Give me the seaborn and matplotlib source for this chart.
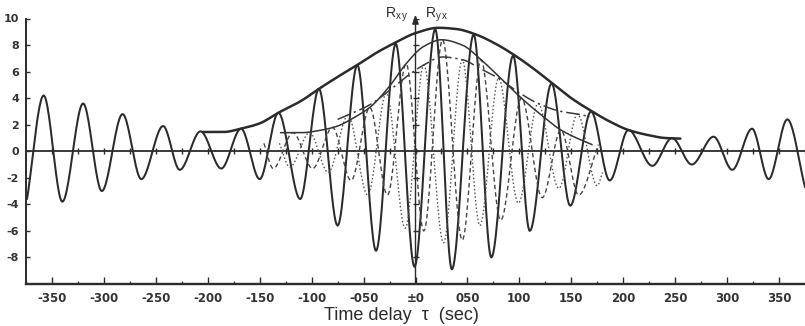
import numpy as np
import pandas as pd
import matplotlib
matplotlib.use("Agg")
import matplotlib.pyplot as plt
import seaborn as sns

# ---- cross-correlation functions, extrema read along the delay axis (sec) ----
main_t = [-374, -358, -340, -320, -302, -282, -264, -243, -227, -207, -187, -168,
          -150, -132, -111, -93, -75, -56, -38, -19, -1, 19, 35, 56, 73, 94, 110,
          131, 149, 169, 187, 205, 228, 247, 266, 287, 305, 324, 340, 358, 375]
main_v = [-3.6, 4.2, -3.8, 3.6, -3.0, 2.8, -2.1, 1.9, -1.4, 1.5, -1.3, 1.7,
          -2.1, 2.9, -3.6, 4.7, -5.6, 6.5, -7.5, 8.1, -8.7, 9.2, -8.9, 8.8, -8.0,
          7.2, -6.0, 5.1, -4.1, 3.0, -2.2, 1.6, -1.1, 1.0, -1.0, 1.1, -1.4, 1.7,
          -2.1, 2.4, -2.7]

dash_t = [-146, -137, -118, -99, -80, -62, -44, -27, -9, 8, 26, 45, 63, 82, 102,
          122, 140, 157, 176]
dash_v = [0.6, -1.3, 1.4, -1.3, 1.8, -2.2, 3.3, -3.3, 6.6, -6.0, 8.4, -6.7, 6.9,
          -5.2, 4.0, -3.5, 1.6, -3.3, 0.5]

dot_t = [-131, -121, -102, -84, -65, -46, -28, -10, 8, 27, 45, 62, 80, 99, 118,
         138, 156, 175, 180]
dot_v = [0.6, -1.2, 1.4, -1.6, 2.7, -3.3, 4.4, -5.8, 6.5, -6.9, 6.9, -5.6, 5.5,
         -3.9, 3.6, -2.8, 2.8, -2.6, -1.6]

# ---- envelopes ----
env1_t = [-205, -185, -168, -150, -132, -110, -93, -75, -56, -38, -19, 0, 22, 40,
          58, 77, 96, 114, 132, 150, 170, 188, 205, 225, 240, 255]
env1_v = [1.45, 1.45, 1.7, 2.1, 2.9, 3.8, 4.7, 5.6, 6.5, 7.4, 8.2, 8.9, 9.3, 9.2,
          8.8, 8.1, 7.2, 6.2, 5.1, 4.0, 3.0, 2.2, 1.6, 1.2, 1.0, 0.95]

env2_t = [-130, -110, -90, -75, -60, -44, -25, -9, 8, 25, 45, 63, 82, 102, 120,
          140, 155, 170]
env2_v = [1.4, 1.4, 1.6, 1.9, 2.5, 3.3, 4.9, 6.6, 7.9, 8.4, 8.0, 6.9, 5.5, 4.0,
          2.8, 1.6, 1.0, 0.5]

env3_t = [-75, -60, -44, -28, -9, 8, 26, 45, 63, 80, 100, 118, 140, 156, 168]
env3_v = [2.4, 2.9, 3.5, 4.4, 5.6, 6.5, 7.1, 6.9, 6.2, 5.5, 4.4, 3.6, 3.0, 2.8, 2.6]

x_ticks = [-350, -300, -250, -200, -150, -100, -50, 0, 50, 100, 150, 200, 250, 300, 350]
x_labels = ["-350", "-300", "-250", "-200", "-150", "-100", "-050", "±0", "050",
            "100", "150", "200", "250", "300", "350"]
y_ticks = [-8, -6, -4, -2, 0, 2, 4, 6, 8, 10]
y_labels = ["-8", "-6", "-4", "-2", "0", "2", "4", "6", "8", "10"]

INK = "#2b2b2b"


def smooth(t, v, n=24):
    """Monotone cubic (Fritsch-Carlson) rendering of a polyline: flat at extrema."""
    t = np.asarray(t, float)
    v = np.asarray(v, float)
    h = np.diff(t)
    d = np.diff(v) / h
    m = np.zeros_like(v)
    m[0], m[-1] = d[0], d[-1]
    for k in range(1, len(v) - 1):
        if d[k - 1] * d[k] > 0:
            w1 = 2 * h[k] + h[k - 1]
            w2 = h[k] + 2 * h[k - 1]
            m[k] = (w1 + w2) / (w1 / d[k - 1] + w2 / d[k])
    xs, ys = [], []
    for k in range(len(h)):
        s = np.linspace(0, 1, n, endpoint=(k == len(h) - 1))
        h00 = 2 * s**3 - 3 * s**2 + 1
        h10 = s**3 - 2 * s**2 + s
        h01 = -2 * s**3 + 3 * s**2
        h11 = s**3 - s**2
        xs.append(t[k] + s * h[k])
        ys.append(h00 * v[k] + h10 * h[k] * m[k] + h01 * v[k + 1] + h11 * h[k] * m[k + 1])
    return pd.DataFrame({"tau": np.concatenate(xs), "R": np.concatenate(ys)})


sns.set_theme(style="white")
plt.rcParams["font.family"] = ["DejaVu Sans"]

fig = plt.figure(figsize=(8.05, 3.26), dpi=100)
ax = fig.add_axes([26 / 805, 1 - 284 / 326, 1 - 26 / 805, (284 - 18.5) / 326])
ax.set_xlim(-374, 375)
ax.set_ylim(-10, 10)

curves = [
    (main_t, main_v, dict(linewidth=1.45, color=INK, linestyle="-")),
    (dash_t, dash_v, dict(linewidth=1.0, color="#444444", linestyle=(0, (3.2, 2.2)))),
    (dot_t, dot_v, dict(linewidth=1.0, color="#555555", linestyle=(0, (1.1, 1.6)))),
    (env1_t, env1_v, dict(linewidth=1.8, color=INK, linestyle="-")),
    (env2_t, env2_v, dict(linewidth=1.1, color="#333333", linestyle="-")),
    (env3_t, env3_v, dict(linewidth=1.1, color="#3a3a3a", linestyle=(0, (9, 2.5, 1.5, 2.5)))),
]
for t, v, style in curves:
    sns.lineplot(data=smooth(t, v), x="tau", y="R", ax=ax, sort=False,
                 estimator=None, errorbar=None, **style)

# zero line with its small delay marks
ax.axhline(0, color=INK, linewidth=1.3, zorder=1)
marks = np.arange(-350, 376, 25)
ax.plot(marks, np.zeros_like(marks), linestyle="none", marker="|",
        markersize=4, markeredgewidth=1.0, color=INK)

# central ordinate with arrow
ax.annotate("", xy=(0, 10.3), xytext=(0, -10), annotation_clip=False,
            arrowprops=dict(arrowstyle="-|>,head_length=0.45,head_width=0.16",
                            lw=1.0, color=INK, shrinkA=0, shrinkB=0))
ax.plot(np.zeros(len(y_ticks)), y_ticks, linestyle="none", marker="_",
        markersize=5, markeredgewidth=1.0, color=INK)
label_font = dict(family=["Liberation Sans", "DejaVu Sans"], fontsize=10, color=INK)
ax.text(-18, 10.3, r"$\mathregular{R_{x\,y}}$", ha="center", va="center",
        clip_on=False, **label_font)
ax.text(20, 10.3, r"$\mathregular{R_{y\,x}}$", ha="center", va="center",
        clip_on=False, **label_font)

# axes frame
for side in ("top", "right"):
    ax.spines[side].set_visible(False)
ax.spines["left"].set_color(INK)
ax.spines["left"].set_linewidth(1.4)
ax.spines["bottom"].set_color(INK)
ax.spines["bottom"].set_linewidth(1.7)

ax.set_xticks(x_ticks)
ax.set_xticklabels(x_labels, fontsize=8.5, fontweight="bold", color="#333333")
ax.set_xticks(np.arange(-375, 376, 25), minor=True)
ax.set_yticks(y_ticks)
ax.set_yticklabels(y_labels, fontsize=8, fontweight="bold", color="#333333")
ax.tick_params(axis="x", which="major", direction="in", length=5, width=1.0,
               color=INK, pad=6, bottom=True)
ax.tick_params(axis="x", which="minor", direction="in", length=2.5, width=0.9,
               color=INK, bottom=True)
ax.tick_params(axis="y", which="major", direction="in", length=3, width=1.0,
               color=INK, pad=5, left=True)

ax.set_xlabel("Time delay  τ  (sec)", fontsize=13, color=INK,
              family=["Liberation Sans", "DejaVu Sans"])
ax.xaxis.set_label_coords((401 - 26) / 779, -0.085)
ax.set_ylabel("")
ax.grid(False)

fig.savefig("out.png", dpi=100, facecolor="white")
